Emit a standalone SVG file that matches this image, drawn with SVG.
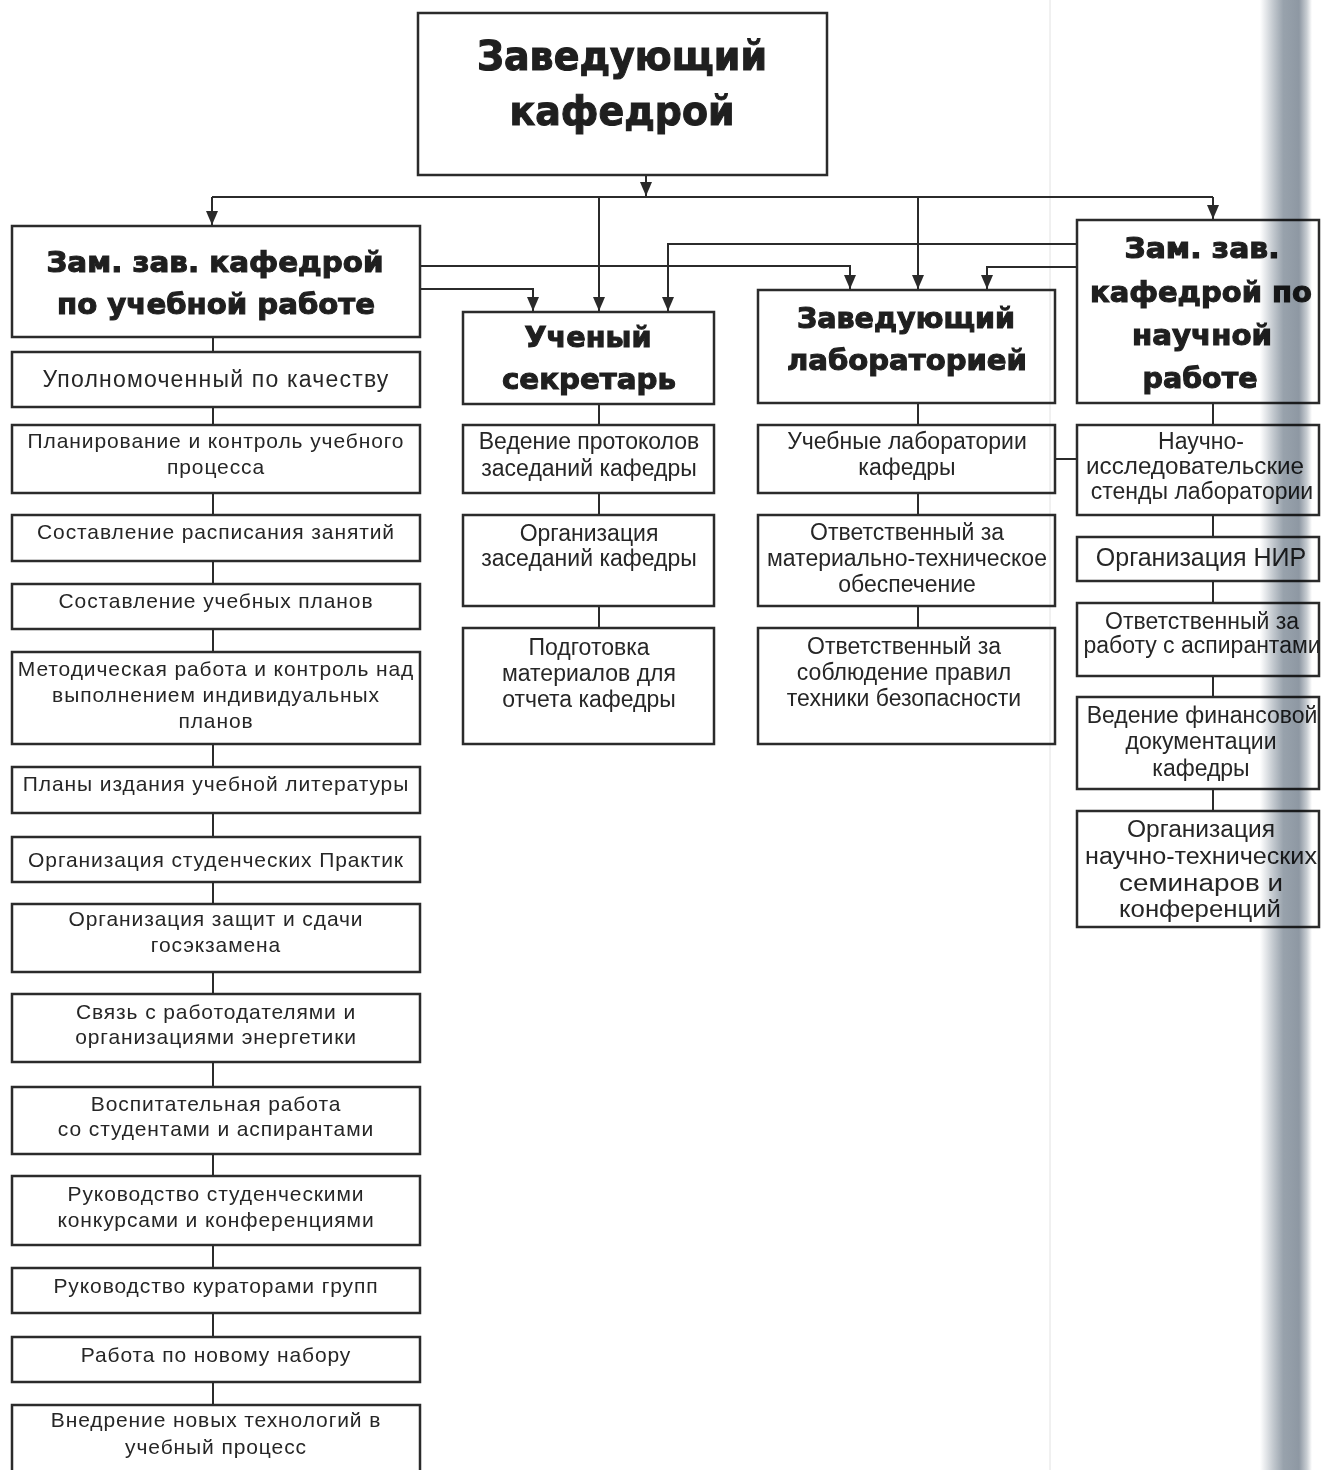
<svg xmlns="http://www.w3.org/2000/svg" width="1321" height="1470" viewBox="0 0 1321 1470">
<defs>
<marker id="arr" markerUnits="userSpaceOnUse" markerWidth="16" markerHeight="14" viewBox="0 0 16 14" refX="15" refY="7" orient="auto">
<path d="M1,1 L15,7 L1,13 Z" fill="#2a2a2a"/>
</marker>
<linearGradient id="band" x1="0" y1="0" x2="1" y2="0">
<stop offset="0" stop-color="#ffffff"/>
<stop offset="0.25" stop-color="#c3c9cf"/>
<stop offset="0.45" stop-color="#98a2ac"/>
<stop offset="0.75" stop-color="#8e98a3"/>
<stop offset="0.9" stop-color="#c8cdd2"/>
<stop offset="1" stop-color="#ffffff"/>
</linearGradient>
</defs>
<style>
.box{fill:none;stroke:#2b2b2b;stroke-width:2.5}
.con{fill:none;stroke:#2b2b2b;stroke-width:2}
.arw{fill:none;stroke:#2b2b2b;stroke-width:2;marker-end:url(#arr)}
.h{font-family:"DejaVu Sans","Liberation Sans",sans-serif;font-weight:bold;fill:#1f1f1f;stroke:#1f1f1f;stroke-width:1.1;text-anchor:middle}
.t{font-family:"Liberation Sans",Arial,sans-serif;font-size:21px;fill:#262626;text-anchor:middle;letter-spacing:0.9px}
.n{font-family:"Liberation Sans",Arial,sans-serif;font-size:23px;fill:#262626;text-anchor:middle}
.big{font-size:23px;letter-spacing:1.2px}
.n25{font-size:25px}
</style>
<rect x="0" y="0" width="1321" height="1470" fill="#ffffff"/>
<line x1="1050" y1="0" x2="1050" y2="1470" stroke="#e2e2e2" stroke-width="1"/>

<g id="connectors">
<path class="arw" d="M646 175 V196"/>
<path class="con" d="M212 197 H1213"/>
<path class="arw" d="M212 197 V225"/>
<path class="arw" d="M599 197 V311"/>
<path class="arw" d="M918 197 V289"/>
<path class="arw" d="M1213 197 V219"/>
<path class="arw" d="M420 266 H850 V289"/>
<path class="arw" d="M420 289 H533 V311"/>
<path class="arw" d="M1077 244 H668 V311"/>
<path class="arw" d="M1077 267 H987 V289"/>
<path class="con" d="M1055 459 H1077"/>
<path class="con" d="M213 337 V352 M213 407 V425 M213 493 V515 M213 561 V584 M213 629 V652 M213 744 V767 M213 813 V837 M213 882 V904 M213 972 V994 M213 1062 V1087 M213 1154 V1176 M213 1245 V1268 M213 1313 V1337 M213 1382 V1405"/>
<path class="con" d="M599 404 V425 M599 493 V515 M599 606 V628"/>
<path class="con" d="M918 403 V425 M918 493 V515 M918 606 V628"/>
<path class="con" d="M1213 403 V425 M1213 515 V537 M1213 581 V603 M1213 676 V697 M1213 789 V811"/>
</g>

<g id="head">
<rect class="box" x="418" y="13" width="409" height="162"/>
<text class="h" x="622" y="70" font-size="40" textLength="290" lengthAdjust="spacingAndGlyphs">Заведующий</text>
<text class="h" x="622" y="125" font-size="40" textLength="225" lengthAdjust="spacingAndGlyphs">кафедрой</text>
</g>

<g id="dep-edu">
<rect class="box" x="12" y="226" width="408" height="111"/>
<text class="h" x="215" y="272" font-size="29" textLength="337" lengthAdjust="spacingAndGlyphs">Зам. зав. кафедрой</text>
<text class="h" x="216" y="314" font-size="29" textLength="318" lengthAdjust="spacingAndGlyphs">по учебной работе</text>
</g>
<g id="sec">
<rect class="box" x="463" y="312" width="251" height="92"/>
<text class="h" x="588" y="347" font-size="29" textLength="127" lengthAdjust="spacingAndGlyphs">Ученый</text>
<text class="h" x="589" y="389" font-size="29" textLength="174" lengthAdjust="spacingAndGlyphs">секретарь</text>
</g>
<g id="lab">
<rect class="box" x="758" y="290" width="297" height="113"/>
<text class="h" x="906" y="328" font-size="29" textLength="218" lengthAdjust="spacingAndGlyphs">Заведующий</text>
<text class="h" x="907" y="370" font-size="29" textLength="240" lengthAdjust="spacingAndGlyphs">лабораторией</text>
</g>
<g id="dep-sci">
<rect class="box" x="1077" y="220" width="242" height="183"/>
<text class="h" x="1202" y="258" font-size="29" textLength="155" lengthAdjust="spacingAndGlyphs">Зам. зав.</text>
<text class="h" x="1201" y="302" font-size="29" textLength="222" lengthAdjust="spacingAndGlyphs">кафедрой по</text>
<text class="h" x="1202" y="345" font-size="29" textLength="140" lengthAdjust="spacingAndGlyphs">научной</text>
<text class="h" x="1200" y="388" font-size="29" textLength="115" lengthAdjust="spacingAndGlyphs">работе</text>
</g>

<g id="l1"><rect class="box" x="12" y="352" width="408" height="55"/><text class="t big" x="216" y="387">Уполномоченный по качеству</text></g>
<g id="l2"><rect class="box" x="12" y="425" width="408" height="68"/><text class="t" x="216" y="448">Планирование и контроль учебного</text><text class="t" x="216" y="474">процесса</text></g>
<g id="l3"><rect class="box" x="12" y="515" width="408" height="46"/><text class="t" x="216" y="539">Составление расписания занятий</text></g>
<g id="l4"><rect class="box" x="12" y="584" width="408" height="45"/><text class="t" x="216" y="608">Составление учебных планов</text></g>
<g id="l5"><rect class="box" x="12" y="652" width="408" height="92"/><text class="t" x="216" y="676">Методическая работа и контроль над</text><text class="t" x="216" y="702">выполнением индивидуальных</text><text class="t" x="216" y="728">планов</text></g>
<g id="l6"><rect class="box" x="12" y="767" width="408" height="46"/><text class="t" x="216" y="791">Планы издания учебной литературы</text></g>
<g id="l7"><rect class="box" x="12" y="837" width="408" height="45"/><text class="t" x="216" y="867">Организация студенческих Практик</text></g>
<g id="l8"><rect class="box" x="12" y="904" width="408" height="68"/><text class="t" x="216" y="926">Организация защит и сдачи</text><text class="t" x="216" y="952">госэкзамена</text></g>
<g id="l9"><rect class="box" x="12" y="994" width="408" height="68"/><text class="t" x="216" y="1019">Связь с работодателями и</text><text class="t" x="216" y="1044">организациями энергетики</text></g>
<g id="l10"><rect class="box" x="12" y="1087" width="408" height="67"/><text class="t" x="216" y="1111">Воспитательная работа</text><text class="t" x="216" y="1136">со студентами и аспирантами</text></g>
<g id="l11"><rect class="box" x="12" y="1176" width="408" height="69"/><text class="t" x="216" y="1201">Руководство студенческими</text><text class="t" x="216" y="1227">конкурсами и конференциями</text></g>
<g id="l12"><rect class="box" x="12" y="1268" width="408" height="45"/><text class="t" x="216" y="1293">Руководство кураторами групп</text></g>
<g id="l13"><rect class="box" x="12" y="1337" width="408" height="45"/><text class="t" x="216" y="1362">Работа по новому набору</text></g>
<g id="l14"><rect class="box" x="12" y="1405" width="408" height="70"/><text class="t" x="216" y="1427">Внедрение новых технологий в</text><text class="t" x="216" y="1454">учебный процесс</text></g>

<g id="s1"><rect class="box" x="463" y="425" width="251" height="68"/><text class="n" x="589" y="449">Ведение протоколов</text><text class="n" x="589" y="476">заседаний кафедры</text></g>
<g id="s2"><rect class="box" x="463" y="515" width="251" height="91"/><text class="n" x="589" y="541">Организация</text><text class="n" x="589" y="566">заседаний кафедры</text></g>
<g id="s3"><rect class="box" x="463" y="628" width="251" height="116"/><text class="n" x="589" y="655">Подготовка</text><text class="n" x="589" y="681">материалов  для</text><text class="n" x="589" y="707">отчета кафедры</text></g>

<g id="b1"><rect class="box" x="758" y="425" width="297" height="68"/><text class="n" x="907" y="449">Учебные лаборатории</text><text class="n" x="907" y="475">кафедры</text></g>
<g id="b2"><rect class="box" x="758" y="515" width="297" height="91"/><text class="n" x="907" y="540">Ответственный за</text><text class="n" x="907" y="566">материально-техническое</text><text class="n" x="907" y="592">обеспечение</text></g>
<g id="b3"><rect class="box" x="758" y="628" width="297" height="116"/><text class="n" x="904" y="654">Ответственный за</text><text class="n" x="904" y="680">соблюдение правил</text><text class="n" x="904" y="706">техники безопасности</text></g>

<g id="r1"><rect class="box" x="1077" y="425" width="242" height="90"/><text class="n" x="1201" y="449">Научно-</text><text class="n" x="1195" y="474" textLength="218" lengthAdjust="spacingAndGlyphs">исследовательские</text><text class="n" x="1202" y="499">стенды лаборатории</text></g>
<g id="r2"><rect class="box" x="1077" y="537" width="242" height="44"/><text class="n n25" x="1201" y="566">Организация НИР</text></g>
<g id="r3"><rect class="box" x="1077" y="603" width="242" height="73"/><text class="n" x="1202" y="629">Ответственный за</text><text class="n" x="1202" y="653">работу с аспирантами</text></g>
<g id="r4"><rect class="box" x="1077" y="697" width="242" height="92"/><text class="n" x="1202" y="723">Ведение финансовой</text><text class="n" x="1201" y="749">документации</text><text class="n" x="1201" y="776">кафедры</text></g>
<g id="r5"><rect class="box" x="1077" y="811" width="242" height="116"/><text class="n" x="1201" y="837" textLength="148" lengthAdjust="spacingAndGlyphs">Организация</text><text class="n" x="1201" y="864" textLength="232" lengthAdjust="spacingAndGlyphs">научно-технических</text><text class="n" x="1201" y="891" textLength="164" lengthAdjust="spacingAndGlyphs">семинаров и</text><text class="n" x="1200" y="917" textLength="162" lengthAdjust="spacingAndGlyphs">конференций</text></g>

<rect x="1260" y="0" width="52" height="1470" fill="url(#band)" style="mix-blend-mode:multiply"/>
</svg>
